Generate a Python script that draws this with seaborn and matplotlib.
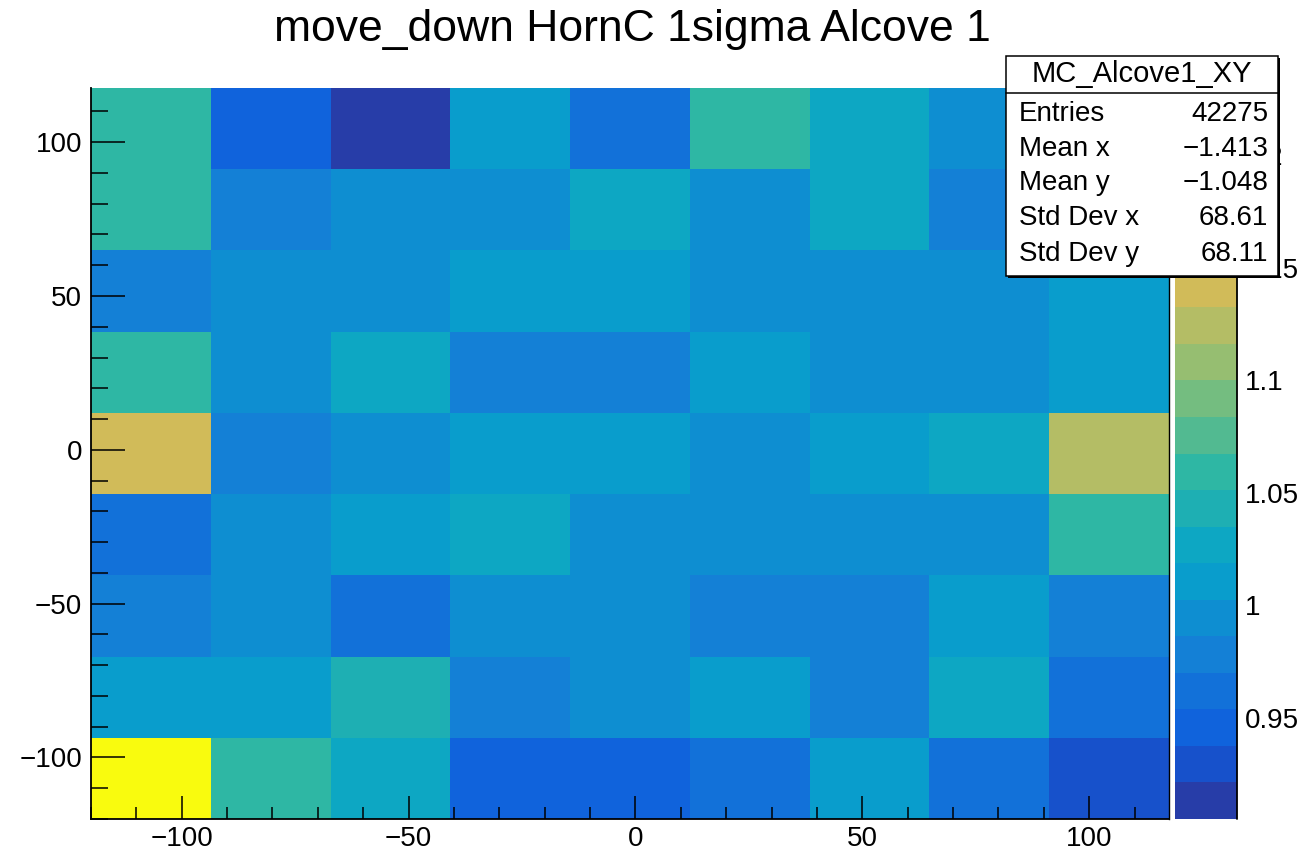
import numpy as np
import pandas as pd
import matplotlib
matplotlib.use("Agg")
import matplotlib.pyplot as plt
from matplotlib.colors import ListedColormap
from matplotlib.patches import Rectangle
from matplotlib.ticker import MultipleLocator, FormatStrFormatter
import seaborn as sns

# bin contents, top row (highest y) first, left to right in x
row_y104 = [1.059, 0.945, 0.905, 1.010, 0.962, 1.059, 1.027, 0.994, 0.994]
row_y78 = [1.059, 0.978, 0.994, 0.994, 1.027, 0.994, 1.027, 0.978, 0.994]
row_y51 = [0.978, 0.994, 0.994, 1.010, 1.010, 0.994, 0.994, 0.994, 1.010]
row_y25 = [1.059, 0.994, 1.027, 0.978, 0.978, 1.010, 0.994, 0.994, 1.010]
row_y_2 = [1.140, 0.978, 0.994, 1.010, 1.010, 0.994, 1.010, 1.027, 1.124]
row_y_28 = [0.962, 0.994, 1.010, 1.027, 0.994, 0.994, 0.994, 0.994, 1.059]
row_y_54 = [0.978, 0.994, 0.962, 0.994, 0.994, 0.978, 0.978, 1.010, 0.978]
row_y_81 = [1.010, 1.010, 1.043, 0.978, 0.994, 1.010, 0.978, 1.027, 0.962]
row_y_107 = [1.230, 1.059, 1.027, 0.945, 0.945, 0.962, 1.010, 0.962, 0.929]
rows = [row_y104, row_y78, row_y51, row_y25, row_y_2,
        row_y_28, row_y_54, row_y_81, row_y_107]

lo, hi, nbins = -120.0, 117.6, 9
title = "move_down HornC 1sigma Alcove 1"
stats_name = "MC_Alcove1_XY"
stats_labels = ["Entries", "Mean x", "Mean y", "Std Dev x", "Std Dev y"]
stats_values = ["42275", "\u22121.413", "\u22121.048", "68.61", "68.11"]
cbar_ticks = [0.95, 1.0, 1.05, 1.1, 1.15, 1.2]

# ROOT kBird palette, 20 contour levels
stops = [0.0, 0.125, 0.25, 0.375, 0.5, 0.625, 0.75, 0.875, 1.0]
red = [0.2082, 0.0592, 0.0780, 0.0232, 0.1802, 0.5301, 0.8186, 0.9956, 0.9764]
green = [0.1664, 0.3599, 0.5041, 0.6419, 0.7178, 0.7492, 0.7328, 0.7862, 0.9832]
blue = [0.5293, 0.8684, 0.8385, 0.7914, 0.6425, 0.4662, 0.3499, 0.1968, 0.0539]
ncont = 20
fr = [int((i + 0.99) * 255 / ncont) / 254 for i in range(ncont)]
cols = [(np.interp(f, stops, red), np.interp(f, stops, green), np.interp(f, stops, blue)) for f in fr]
cmap = ListedColormap(cols)

width = (hi - lo) / nbins
centers = lo + width * (np.arange(nbins) + 0.5)
xs, ys, ws = [], [], []
for j, row in enumerate(rows):
    for i, v in enumerate(row):
        xs.append(centers[i])
        ys.append(centers[nbins - 1 - j])
        ws.append(v)
df = pd.DataFrame({"x": xs, "y": ys, "w": ws})

sns.set_style("ticks")
plt.rcParams["font.family"] = ["Liberation Sans", "DejaVu Sans"]
plt.rcParams["text.color"] = "black"
plt.rcParams["xtick.color"] = "black"
plt.rcParams["ytick.color"] = "black"
plt.rcParams["xtick.labelcolor"] = "black"
plt.rcParams["ytick.labelcolor"] = "black"

W, H = 1306, 856
fig = plt.figure(figsize=(W / 100, H / 100), dpi=100)
ax = fig.add_axes([91 / W, 1 - 819 / H, (1169 - 91) / W, (819 - 88) / H])
cax = fig.add_axes([1175 / W, 1 - 819 / H, (1237 - 1175) / W, (819 - 88) / H])

sns.histplot(data=df, x="x", y="y", weights="w", bins=nbins,
             binrange=((lo, hi), (lo, hi)), cmap=cmap,
             vmin=min(ws), vmax=max(ws), cbar=True, cbar_ax=cax, ax=ax)

ax.set_xlim(lo, hi)
ax.set_ylim(lo, hi)
ax.set_xlabel("")
ax.set_ylabel("")
ax.xaxis.set_major_locator(MultipleLocator(50))
ax.xaxis.set_minor_locator(MultipleLocator(10))
ax.yaxis.set_major_locator(MultipleLocator(50))
ax.yaxis.set_minor_locator(MultipleLocator(10))
ax.tick_params(axis="both", which="both", direction="in", color="black",
               labelcolor="black", labelsize=20, width=1.1, top=False, right=False)
ax.tick_params(axis="x", which="major", length=16.5, pad=5)
ax.tick_params(axis="x", which="minor", length=8.3)
ax.tick_params(axis="y", which="major", length=24.5, pad=6.5)
ax.tick_params(axis="y", which="minor", length=12.2)
for s in ["left", "bottom"]:
    ax.spines[s].set_linewidth(1.3)
    ax.spines[s].set_color("black")
ax.spines["right"].set_visible(True)
ax.spines["right"].set_linewidth(1.0)
ax.spines["right"].set_color("black")
ax.spines["top"].set_visible(False)
ax.set_axisbelow(False)

cbar = ax.collections[0].colorbar
cbar.outline.set_visible(False)
cbar.set_ticks(cbar_ticks)
cax.yaxis.set_major_formatter(FormatStrFormatter("%g"))
cax.minorticks_off()
cax.tick_params(axis="y", direction="in", length=24.5, width=1.1, color="black",
                labelcolor="black", labelsize=20, pad=6, right=True, left=False)
cax.plot([1, 1], [0, 1], transform=cax.transAxes, color="black", lw=1.3, clip_on=False)

fig.text(632 / W, 1 - 30 / H, title, ha="center", va="center", fontsize=32, color="black")

# stats box
bx0, bx1, by0, by1 = 1006, 1278, 56, 276
fig.patches.append(Rectangle((bx0 / W + 2 / W, 1 - (by1 + 2) / H), (bx1 - bx0) / W, (by1 - by0) / H,
                             transform=fig.transFigure, facecolor="black", edgecolor="none", zorder=5))
fig.patches.append(Rectangle((bx0 / W, 1 - by1 / H), (bx1 - bx0) / W, (by1 - by0) / H,
                             transform=fig.transFigure, facecolor="white", edgecolor="black",
                             linewidth=1.1, zorder=6))
fig.lines.append(plt.Line2D([bx0 / W, bx1 / W], [1 - 93 / H, 1 - 93 / H],
                            transform=fig.transFigure, color="black", lw=1.1, zorder=7))
fig.text((bx0 + bx1) / 2 / W, 1 - 74.5 / H, stats_name, ha="center", va="center",
         fontsize=21, color="black", zorder=8)
row_px = [114, 149, 183, 218, 254]
for lab, val, yp in zip(stats_labels, stats_values, row_px):
    fig.text(1019 / W, 1 - yp / H, lab, ha="left", va="center", fontsize=20, color="black", zorder=8)
    fig.text(1268 / W, 1 - yp / H, val, ha="right", va="center", fontsize=20, color="black", zorder=8)

fig.savefig("out.png", dpi=100)
